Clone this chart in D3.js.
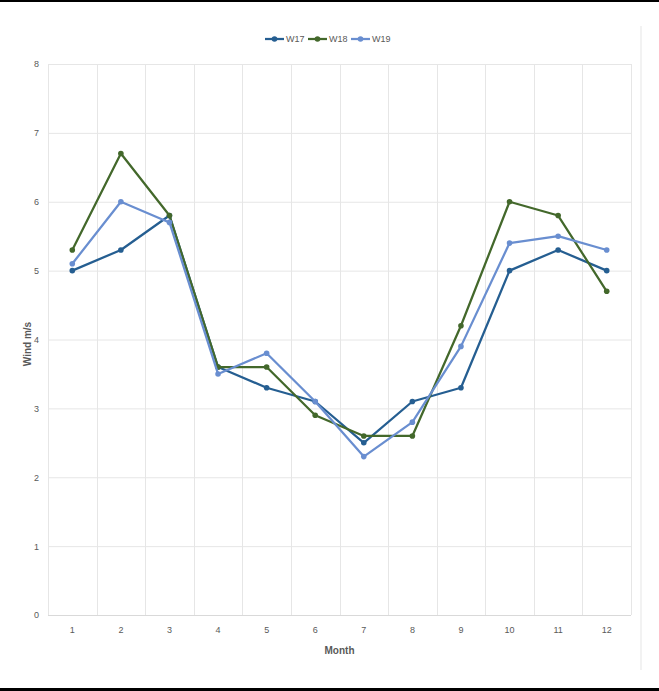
<!DOCTYPE html>
<html><head><meta charset="utf-8">
<script src="https://cdn.jsdelivr.net/npm/d3@7"></script>
<style>
html,body{margin:0;padding:0;background:#fff;}
svg{display:block;}
text{font-family:"Liberation Sans","Arial",sans-serif;}
</style></head>
<body>
<svg id="chart" width="659" height="691"></svg>
<script>
const months = [1,2,3,4,5,6,7,8,9,10,11,12];
const w17 = [5.0,5.3,5.8,3.6,3.3,3.1,2.5,3.1,3.3,5.0,5.3,5.0];
const w18 = [5.3,6.7,5.8,3.6,3.6,2.9,2.6,2.6,4.2,6.0,5.8,4.7];
const w19 = [5.1,6.0,5.7,3.5,3.8,3.1,2.3,2.8,3.9,5.4,5.5,5.3];
const seriesNames = ["W17","W18","W19"];
const seriesColors = ["#255E91","#43682B","#698ED0"];
const yTicks = [0,1,2,3,4,5,6,7,8];

const series = [w17,w18,w19].map((v,i)=>({name:seriesNames[i],color:seriesColors[i],values:v}));

const svg = d3.select("#chart");
const W = 659, H = 691;
const m = {left:48, right:631, top:64, bottom:615};

// frame lines
svg.append("rect").attr("x",0).attr("y",0).attr("width",W).attr("height",2).attr("fill","#000");
svg.append("rect").attr("x",0).attr("y",688).attr("width",W).attr("height",3).attr("fill","#000");
svg.append("rect").attr("x",640).attr("y",26).attr("width",2).attr("height",644).attr("fill","#f2f2f2");

const x = d3.scaleBand().domain(months).range([m.left,m.right]).paddingInner(0).paddingOuter(0);
const y = d3.scaleLinear().domain([0,8]).range([m.bottom,m.top]);

// horizontal gridlines
svg.append("g").selectAll("line").data(yTicks).join("line")
  .attr("x1",m.left).attr("x2",m.right)
  .attr("y1",d=>y(d)+0.5).attr("y2",d=>y(d)+0.5)
  .attr("stroke",d=>d===0?"#d9d9d9":"#e6e6e6").attr("stroke-width",1);
// vertical gridlines at category boundaries
const bounds = months.map(d=>x(d)).concat([m.right]);
svg.append("g").selectAll("line").data(bounds).join("line")
  .attr("x1",d=>Math.round(d)+0.5).attr("x2",d=>Math.round(d)+0.5)
  .attr("y1",m.top).attr("y2",m.bottom)
  .attr("stroke","#e6e6e6").attr("stroke-width",1);

// y axis labels
const yAxis = d3.axisLeft(y).tickValues(yTicks).tickSize(0).tickPadding(9).tickFormat(d3.format("d"));
const gy = svg.append("g").attr("transform",`translate(${m.left},0)`).call(yAxis);
gy.select(".domain").remove();
gy.selectAll("text").attr("fill","#595959").style("font-size","9px").style("font-family","Liberation Sans, sans-serif");

// x axis labels
const xAxis = d3.axisBottom(x).tickSize(0).tickPadding(12);
const gx = svg.append("g").attr("transform",`translate(0,${m.bottom})`).call(xAxis);
gx.select(".domain").remove();
gx.selectAll("text").attr("fill","#595959").style("font-size","9px").style("font-family","Liberation Sans, sans-serif");

// axis titles
svg.append("text").attr("x",(m.left+m.right)/2).attr("y",654).attr("text-anchor","middle")
  .attr("fill","#595959").style("font-size","10px").style("font-weight","bold").text("Month");
svg.append("text").attr("transform",`translate(31,344) rotate(-90)`)
  .attr("text-anchor","middle").attr("fill","#595959").style("font-size","10px").style("font-weight","bold").text("Wind m/s");

// lines
const line = d3.line().x((d,i)=>x(months[i])+x.bandwidth()/2).y(d=>y(d));
const gs = svg.append("g").selectAll("g").data(series).join("g");
gs.append("path").attr("d",d=>line(d.values)).attr("fill","none")
  .attr("stroke",d=>d.color).attr("stroke-width",2.25).attr("stroke-linejoin","round");
gs.each(function(s){
  d3.select(this).selectAll("circle").data(s.values).join("circle")
    .attr("cx",(d,i)=>x(months[i])+x.bandwidth()/2).attr("cy",d=>y(d)).attr("r",2.8)
    .attr("fill",s.color);
});

// legend
const legX = [265, 308, 351];
const lg = svg.append("g").selectAll("g").data(series).join("g")
  .attr("transform",(d,i)=>`translate(${legX[i]},39)`);
lg.append("line").attr("x1",0).attr("x2",19).attr("y1",0).attr("y2",0)
  .attr("stroke",d=>d.color).attr("stroke-width",2.25);
lg.append("circle").attr("cx",9.5).attr("cy",0).attr("r",2.8).attr("fill",d=>d.color);
lg.append("text").attr("x",21).attr("y",3.3).attr("fill","#595959").style("font-size","9px").text(d=>d.name);
</script>
</body></html>
